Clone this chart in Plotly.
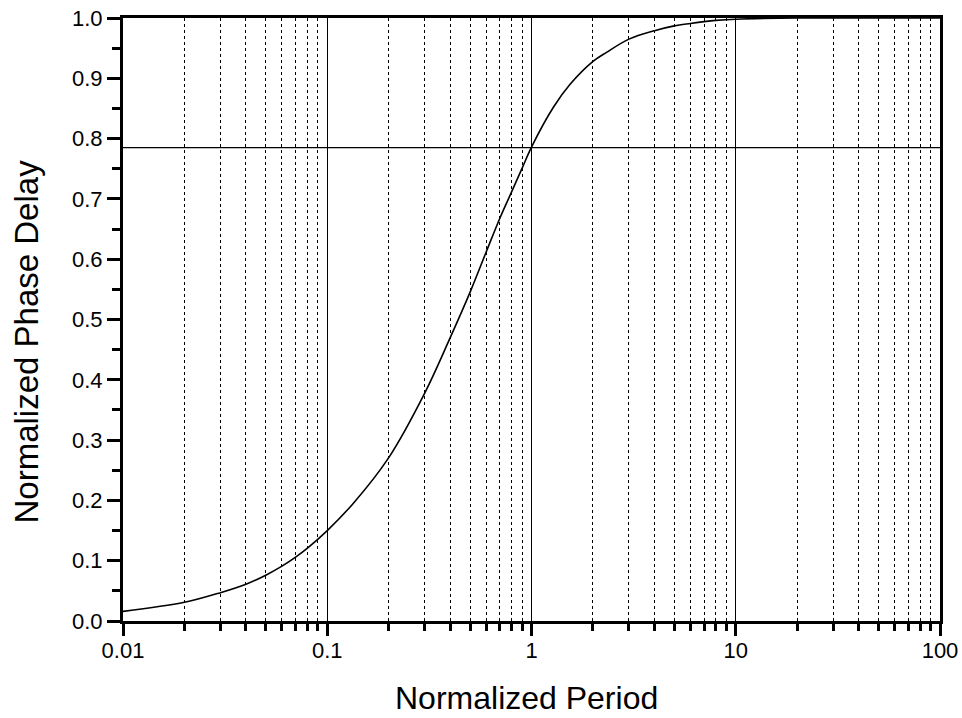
import plotly.graph_objects as go

# Data
period = [0.01, 0.02, 0.03, 0.04, 0.05, 0.06, 0.07, 0.08, 0.1, 0.134, 0.2, 0.3,
          0.4, 0.5, 0.6, 0.7, 0.8, 0.9, 1.0, 1.28, 1.545, 2, 2.33, 3, 4, 5, 6,
          7, 8, 10, 20, 50, 100]
phase_delay = [0.016, 0.031, 0.047, 0.061, 0.076, 0.091, 0.106, 0.121, 0.150,
               0.195, 0.271, 0.378, 0.470, 0.545, 0.612, 0.668, 0.712, 0.751,
               0.786, 0.852, 0.890, 0.928, 0.943, 0.965, 0.979, 0.987, 0.991,
               0.994, 0.996, 0.998, 1.0, 1.0, 1.0]
ref_level = 0.785
x_tickvals = [0.01, 0.1, 1, 10, 100]
x_ticktext = ["0.01", "0.1", "1", "10", "100"]

FONT = "Arial, Liberation Sans, Helvetica, sans-serif"

fig = go.Figure()
fig.add_trace(go.Scatter(x=period, y=phase_delay, mode="lines",
                         line=dict(color="black", width=1.6, shape="spline",
                                   smoothing=1),
                         showlegend=False, hoverinfo="skip"))
fig.add_hline(y=ref_level, line=dict(color="black", width=1.2))

fig.update_xaxes(
    type="log", range=[-2, 2], automargin=False,
    tickvals=x_tickvals, ticktext=x_ticktext,
    ticks="outside", ticklen=12, tickwidth=2.5, tickcolor="black",
    ticklabelstandoff=-4,
    showline=True, linewidth=3, linecolor="black", mirror=True,
    showgrid=True, gridcolor="black", gridwidth=1.3,
    tickfont=dict(family=FONT, size=22, color="black"),
    zeroline=False,
    minor=dict(ticks="outside", ticklen=7, tickwidth=2.5, tickcolor="black",
               dtick="D1", showgrid=True, gridcolor="black", gridwidth=1,
               griddash="dot"),
)
fig.update_yaxes(
    range=[0, 1], dtick=0.1, tickformat=".1f", automargin=False,
    ticks="outside", ticklen=13, tickwidth=2.5, tickcolor="black",
    showline=True, linewidth=3, linecolor="black", mirror=True,
    showgrid=False, zeroline=False,
    tickfont=dict(family=FONT, size=22, color="black"),
    minor=dict(ticks="outside", ticklen=8, tickwidth=2.5, tickcolor="black",
               dtick=0.05, showgrid=False),
)

fig.add_annotation(text="Normalized Period", xref="paper", yref="paper",
                   x=0.494, y=-0.1277, xanchor="center", yanchor="middle",
                   showarrow=False, font=dict(family=FONT, size=32, color="black"))
fig.add_annotation(text="Normalized Phase Delay", xref="paper", yref="paper",
                   x=-0.1175, y=0.4635, xanchor="center", yanchor="middle",
                   textangle=-90, showarrow=False,
                   font=dict(family=FONT, size=33, color="black"))

fig.update_layout(
    width=962, height=718,
    margin=dict(l=123, r=22, t=18, b=97),
    paper_bgcolor="white", plot_bgcolor="white",
    font=dict(family=FONT, color="black"),
)

fig.write_html("out.html")
